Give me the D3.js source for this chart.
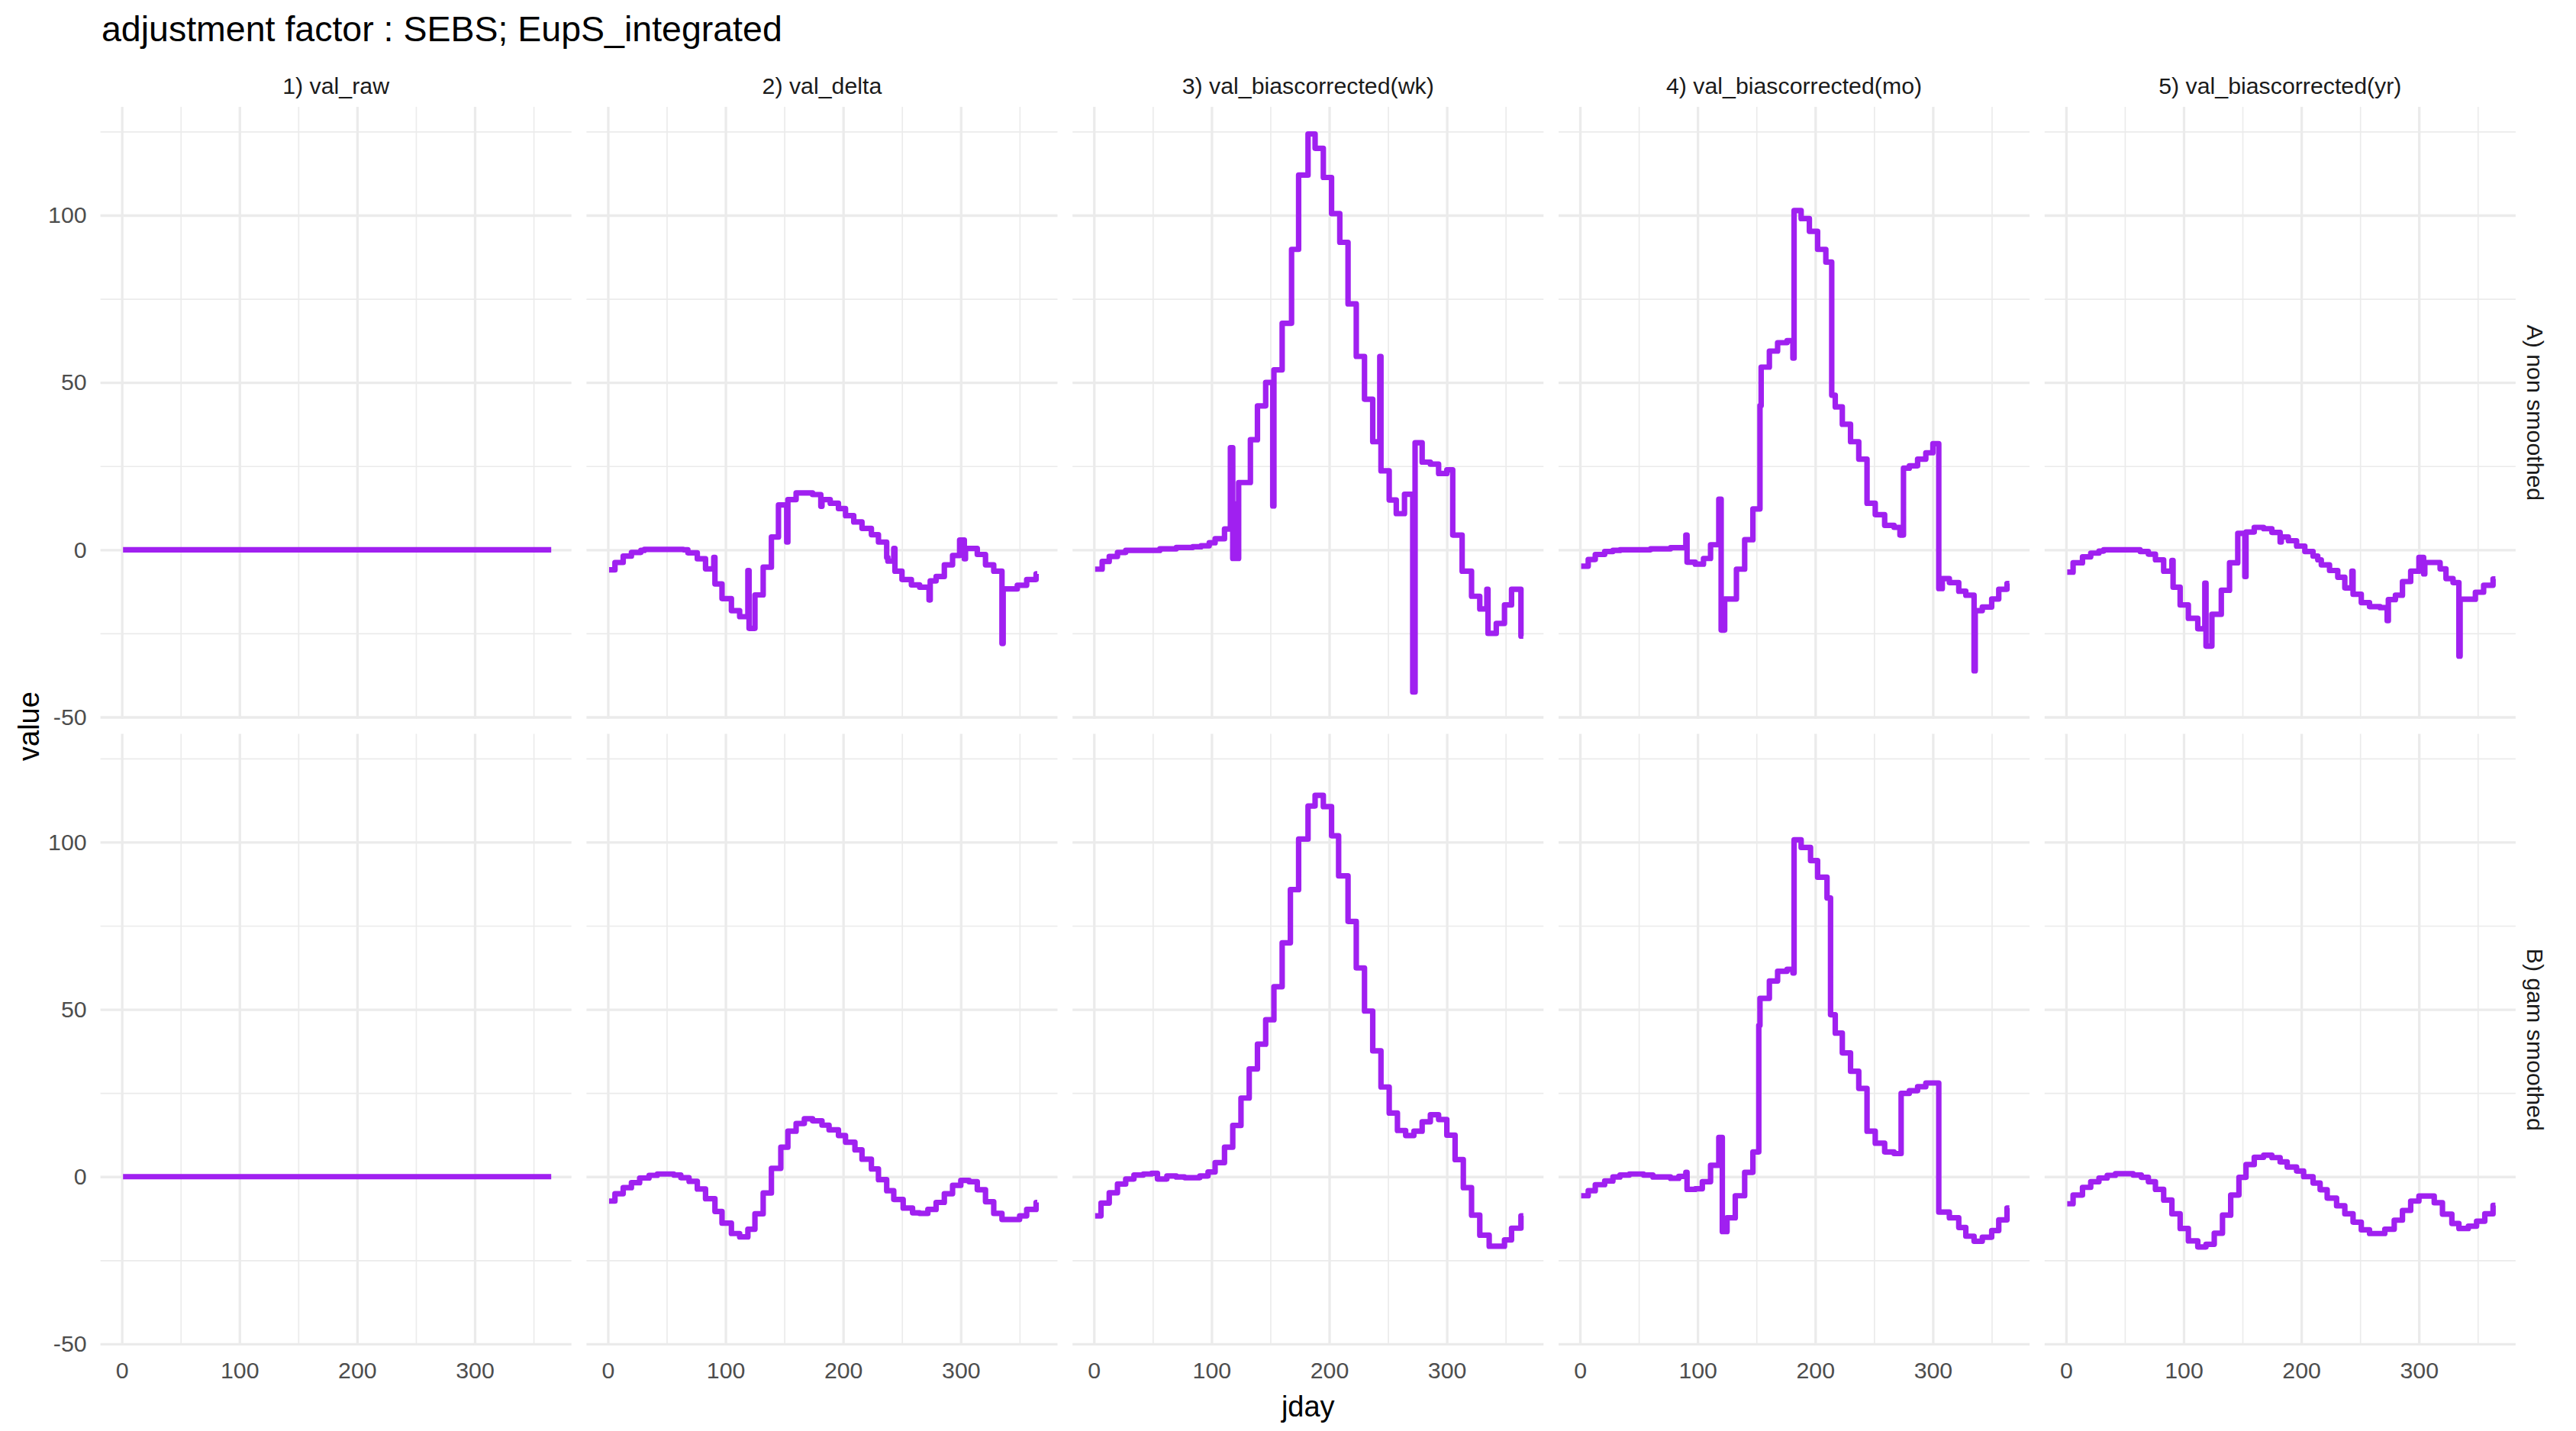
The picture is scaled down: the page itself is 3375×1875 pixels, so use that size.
<!DOCTYPE html>
<html>
<head>
<meta charset="utf-8">
<script src="https://cdn.jsdelivr.net/npm/d3@7"></script>
<style>
  body { margin: 0; background: #fff; }
  text { font-family: "Liberation Sans", Arial, sans-serif; }
</style>
</head>
<body>
<svg width="3375" height="1875"></svg>
<script>
// facet labels and ticks
const columns = ["1) val_raw", "2) val_delta", "3) val_biascorrected(wk)", "4) val_biascorrected(mo)", "5) val_biascorrected(yr)"];
const rows = ["A) non smoothed", "B) gam smoothed"];
const xTicks = [0, 100, 200, 300];
const xMinor = [50, 150, 250, 350];
const yTicks = [-50, 0, 50, 100];
const yMinor = [-25, 25, 75, 125];

// step breakpoints [jday, value]
const rawA = [[1, 0], [365, 0]];
const deltaA = [[1,-6],[6,-3.8],[13,-1.9],[20,-0.8],[28,-0.2],[31,0.1],[64,0],[68,-0.9],[76,-2.7],[83,-5.7],[90,-2.3],[91,-10.2],[97,-14.6],[105,-18.2],[112,-20],[119,-6.2],[120,-23.5],[125,-13.5],[132,-5.2],[139,3.8],[145,13.4],[152,2.3],[153,15],[160,17],[174,16.5],[181,13],[182,15],[189,13.9],[196,12.3],[202,10.2],[209,8.3],[216,6.4],[224,4.5],[230,2.3],[237,-2.3],[238,-3.4],[243,0.4],[244,-6.4],[250,-8.9],[258,-10.5],[265,-11.2],[273,-15],[274,-9.3],[279,-8],[286,-4.5],[293,-1.7],[299,2.9],[303,-2.7],[304,0.4],[314,-1.4],[321,-4.5],[328,-6.4],[335,-28],[336,-11.7],[348,-10.6],[356,-8.9],[364,-7.2],[365,-7.2]];
const wkA = [[1,-5.8],[7,-3.5],[13,-2],[20,-0.8],[27,-0.2],[56,0.3],[70,0.7],[84,0.9],[91,1.2],[98,2.1],[103,3.3],[111,6.2],[116,30.5],[118,-2.6],[120,13.7],[121,-2.6],[123,20.1],[133,32.9],[139,43],[146,50],[152,13.1],[153,53.8],[160,67.7],[168,89.8],[174,112],[182,124.3],[188,120],[195,111.3],[202,100.5],[209,91.9],[216,73.5],[223,57.8],[230,45],[237,32.3],[243,57.8],[244,23.6],[251,14.9],[257,10.8],[264,16.6],[271,-42.5],[273,32],[279,26.2],[286,25.6],[293,22.8],[300,23.9],[305,4.4],[313,-6.4],[321,-13.9],[328,-17.7],[334,-11.8],[335,-25],[342,-22],[349,-16.5],[355,-11.8],[363,-25.8],[365,-25.8]];
const moA = [[1,-4.9],[7,-2.9],[13,-1.4],[21,-0.5],[28,-0.2],[34,0],[60,0.3],[77,0.6],[90,4.4],[91,-3.7],[98,-4.3],[105,-2.6],[111,1.5],[118,15.1],[120,-24],[123,-14.7],[133,-5.8],[140,3],[147,12.2],[153,43.1],[154,54.6],[161,59.4],[168,61.9],[176,62.5],[181,57.3],[182,101.4],[188,99],[195,95.2],[202,89.8],[209,86],[214,46.2],[217,42.7],[223,37.5],[230,32.3],[237,27.1],[244,13.9],[251,10.5],[259,7.3],[267,6.7],[272,4.4],[275,24.4],[280,25.1],[287,27.1],[294,29],[300,31.7],[305,-11.6],[308,-8.6],[314,-9.8],[322,-12.4],[328,-13.6],[335,-36.2],[336,-18.2],[342,-17.1],[350,-14.7],[356,-11.8],[363,-10.1],[365,-10.1]];
const yrA = [[1,-6.7],[6,-3.9],[14,-2.1],[21,-1],[28,-0.4],[32,0],[61,0],[63,-0.5],[70,-1.3],[76,-3],[83,-6.4],[90,-3.2],[91,-11.2],[97,-16.5],[104,-20.5],[112,-23.6],[118,-10],[119,-28.8],[124,-19.3],[132,-12.1],[139,-3.9],[146,4.9],[152,-8],[153,5.3],[160,6.7],[168,6.3],[175,5.2],[182,2.3],[183,3.8],[189,2.7],[196,1.1],[203,-0.5],[210,-1.9],[214,-3],[217,-4.5],[224,-6.2],[231,-8.2],[237,-11.4],[243,-6.4],[244,-13.3],[251,-15.8],[258,-17],[267,-17.3],[273,-21.2],[274,-14.9],[280,-13.6],[286,-9.5],[293,-6.4],[300,-2.3],[304,-7.2],[305,-3.8],[318,-5.7],[323,-8.6],[329,-9.8],[334,-31.8],[335,-14.8],[348,-12.7],[355,-10.6],[363,-8.7],[365,-8.7]];

const rawB = [[1, 0], [365, 0]];
const deltaB = [[1,-7.3],[6,-5.1],[13,-3.3],[20,-1.8],[27,-0.4],[35,0.4],[42,0.8],[56,0.5],[62,-0.3],[69,-1.4],[76,-3.7],[83,-6.6],[91,-10.4],[97,-13.9],[105,-17],[112,-18],[119,-15.7],[125,-11.1],[132,-4.9],[139,2.5],[147,8.8],[153,13.6],[160,15.9],[167,17.3],[174,16.7],[182,15.4],[188,14],[196,12.3],[202,10.3],[210,8],[216,5.2],[224,2.3],[230,-0.9],[237,-4.2],[243,-6.8],[251,-9.4],[259,-10.8],[265,-11],[272,-9.8],[279,-7.7],[286,-5.1],[293,-2.6],[300,-1.1],[307,-1.5],[314,-3.9],[321,-7.5],[328,-11],[335,-12.8],[350,-11.7],[356,-9.8],[364,-7.7],[365,-7.7]];
const wkB = [[1,-11.7],[6,-7.9],[13,-4.8],[20,-2.2],[27,-0.7],[34,0.5],[42,0.8],[49,1],[54,-0.7],[62,0.2],[70,-0.1],[77,-0.3],[90,0.2],[97,1.4],[103,4.2],[111,8.8],[118,15.3],[125,23.5],[132,32.2],[139,39.6],[146,46.9],[153,56.8],[160,69.9],[167,85.8],[174,100.9],[182,110.8],[188,114],[195,110.6],[202,101.9],[208,89.9],[216,76.3],[223,62.4],[230,49.5],[237,37.6],[244,26.8],[251,19],[258,13.8],[265,12.3],[272,13.6],[279,16.4],[286,18.5],[293,17.1],[300,12.4],[307,5.1],[314,-3.3],[321,-11.5],[328,-17.5],[336,-20.8],[349,-18.9],[355,-15.4],[363,-11.7],[365,-11.7]];
const moB = [[1,-5.7],[7,-4.2],[13,-2.4],[21,-1.3],[28,-0.1],[34,0.5],[42,0.8],[54,0.5],[62,-0.1],[77,-0.5],[84,0.1],[90,1.3],[91,-3.8],[98,-3.6],[104,-1.5],[111,3.4],[118,11.7],[121,-16.4],[125,-12.3],[132,-5.7],[140,1.3],[147,7.4],[152,45.2],[153,53.3],[161,58.5],[168,61.4],[176,62],[181,60.9],[182,100.7],[188,98.4],[196,94.5],[202,89.5],[210,83.3],[213,48.4],[217,42.9],[223,37],[230,31.5],[237,26.4],[244,13.6],[251,10],[259,7.4],[267,6.9],[273,24.9],[280,25.7],[287,26.9],[294,28],[305,-10.6],[314,-12.3],[322,-15.2],[328,-17.8],[335,-19.3],[342,-18.1],[350,-16.1],[356,-12.9],[363,-9.4],[365,-9.4]];
const yrB = [[1,-8.1],[6,-5.5],[14,-3.2],[21,-1.5],[28,-0.4],[35,0.4],[42,0.9],[57,0.5],[64,-0.2],[70,-1.5],[76,-3.8],[83,-7],[90,-11.1],[97,-15.5],[104,-19.2],[112,-21],[119,-20.2],[126,-16.9],[133,-11.5],[140,-5.5],[147,-0.2],[153,3.6],[160,5.8],[168,6.4],[175,5.7],[182,4.4],[188,2.9],[196,1.7],[202,0],[210,-1.9],[216,-3.9],[222,-6.4],[230,-8.7],[237,-11.1],[244,-13.6],[251,-15.9],[258,-17],[271,-15.7],[279,-13],[286,-10.1],[293,-7.3],[300,-5.8],[313,-7.8],[320,-11.2],[328,-14],[334,-15.5],[342,-14.8],[349,-13.3],[356,-11.1],[363,-8.6],[365,-8.6]];

const panelData = [
  [rawA, deltaA, wkA, moA, yrA],
  [rawB, deltaB, wkB, moB, yrB]
];

const svg = d3.select("svg");
const marginLeft = 131.6, marginTop = 140;
const panelW = 617.1, panelH = 801.7, gap = 19.7;
const lineColor = "#A020F0";

const x = d3.scaleLinear().domain([-18.2, 382.2]).range([0, panelW]);
const y = d3.scaleLinear().domain([-50.5, 132.4]).range([panelH, 0]);

const line = d3.line()
  .x(d => x(d[0]))
  .y(d => y(d[1]))
  .curve(d3.curveStepAfter);

svg.append("text")
  .attr("x", 133).attr("y", 54)
  .style("font-size", "46.5px").attr("fill", "#000")
  .text("adjustment factor : SEBS; EupS_integrated");

rows.forEach((rowLabel, r) => {
  columns.forEach((colLabel, c) => {
    const px = marginLeft + c * (panelW + gap);
    const py = marginTop + r * (panelH + gap);
    const g = svg.append("g").attr("transform", `translate(${px},${py})`);

    // grid: minor then major
    const grid = (axis, vals, w) => {
      const a = g.append("g").call(axis.tickValues(vals).tickFormat(""));
      a.select(".domain").remove();
      a.selectAll("line").attr("stroke", "#EBEBEB").attr("stroke-width", w);
    };
    grid(d3.axisLeft(y).tickSize(-panelW), yMinor, 1.65);
    grid(d3.axisBottom(x).tickSize(panelH), xMinor, 1.65);
    grid(d3.axisLeft(y).tickSize(-panelW), yTicks, 3.3);
    grid(d3.axisBottom(x).tickSize(panelH), xTicks, 3.3);

    g.append("path")
      .datum(panelData[r][c])
      .attr("fill", "none")
      .attr("stroke", lineColor)
      .attr("stroke-width", 7.2)
      .attr("stroke-linejoin", "round")
      .attr("d", line);

    if (r === 0) {
      g.append("text")
        .attr("x", panelW / 2).attr("y", 123 - marginTop)
        .attr("text-anchor", "middle")
        .style("font-size", "30.3px").attr("fill", "#1A1A1A")
        .text(colLabel);
    }
    if (c === 0) {
      const ay = g.append("g").call(d3.axisLeft(y).tickValues(yTicks).tickSize(0).tickPadding(18).tickFormat(d => String(d)));
      ay.select(".domain").remove();
      ay.selectAll("text").style("font-size", "30.3px").attr("fill", "#4D4D4D")
        .style("font-family", "'Liberation Sans', Arial, sans-serif");
    }
    if (r === rows.length - 1) {
      const ax = g.append("g").attr("transform", `translate(0,${panelH})`)
        .call(d3.axisBottom(x).tickValues(xTicks).tickSize(0).tickPadding(21).tickFormat(d => String(d)));
      ax.select(".domain").remove();
      ax.selectAll("text").style("font-size", "30.3px").attr("fill", "#4D4D4D")
        .style("font-family", "'Liberation Sans', Arial, sans-serif");
    }
    if (c === columns.length - 1) {
      g.append("text")
        .attr("transform", `translate(${panelW + 26},${panelH / 2}) rotate(90)`)
        .attr("text-anchor", "middle")
        .attr("dy", "0.35em")
        .style("font-size", "30.3px").attr("fill", "#1A1A1A")
        .text(rowLabel);
    }
  });
});

const fullW = columns.length * panelW + (columns.length - 1) * gap;
const fullH = rows.length * panelH + (rows.length - 1) * gap;

svg.append("text")
  .attr("x", marginLeft + fullW / 2).attr("y", 1856)
  .attr("text-anchor", "middle")
  .style("font-size", "38px").attr("fill", "#000")
  .text("jday");

svg.append("text")
  .attr("transform", `translate(51,${marginTop + fullH / 2}) rotate(-90)`)
  .attr("text-anchor", "middle")
  .style("font-size", "38px").attr("fill", "#000")
  .text("value");
</script>
</body>
</html>
